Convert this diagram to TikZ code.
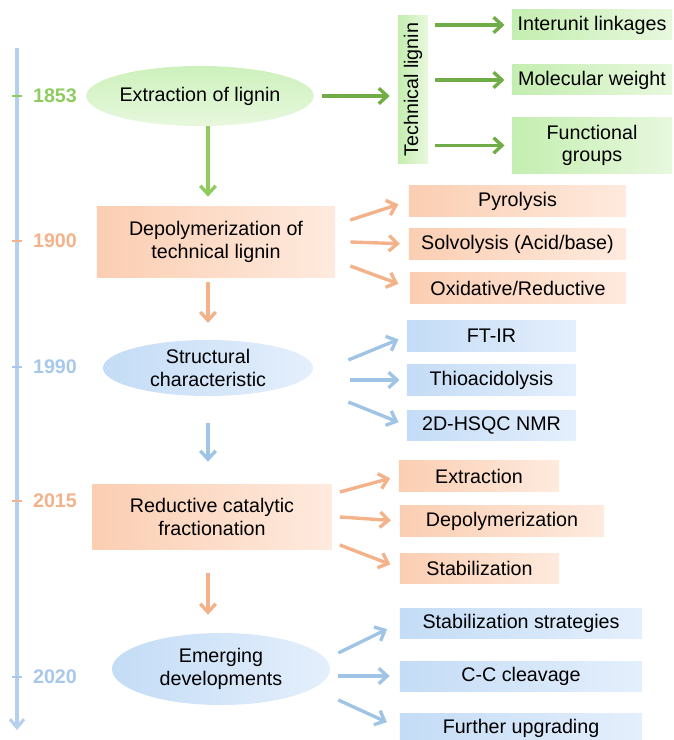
\documentclass[tikz,border=0pt]{standalone}
\usepackage{fontspec}
\setmainfont{Liberation Sans}
\usetikzlibrary{shapes, arrows.meta, positioning, calc}
\definecolor{grnline}{RGB}{112,173,71}
\definecolor{grnyear}{RGB}{142,204,96}
\definecolor{grnA}{RGB}{196,238,176}
\definecolor{grnB}{RGB}{232,248,222}
\definecolor{orgline}{RGB}{243,178,138}
\definecolor{orgA}{RGB}{251,206,178}
\definecolor{orgB}{RGB}{254,234,222}
\definecolor{bluline}{RGB}{160,196,230}
\definecolor{bluyear}{RGB}{168,200,234}
\definecolor{bluA}{RGB}{196,220,246}
\definecolor{bluB}{RGB}{228,239,252}
\tikzstyle{arr}   = [line width=2.4pt, -{Straight Barb[length=6pt, width=11pt, line width=2.4pt]}]
\tikzstyle{garr}  = [arr, draw=grnline]
\tikzstyle{oarr}  = [arr, draw=orgline]
\tikzstyle{barr}  = [arr, draw=bluline]
\tikzstyle{yr}    = [font=\fontsize{14pt}{16pt}\selectfont\bfseries]
\tikzstyle{tick}  = [line width=2.1pt]
\tikzstyle{box}   = [rectangle, minimum height=0.75cm, inner sep=0pt, align=center]
\tikzstyle{gbox}  = [box, left color=grnA, right color=grnB]
\tikzstyle{obox}  = [box, left color=orgA, right color=orgB]
\tikzstyle{bbox}  = [box, left color=bluA, right color=bluB]
\tikzstyle{oval}  = [ellipse, inner sep=0pt, align=center]

\begin{document}
\begin{tikzpicture}[x=0.025cm, y=-0.025cm, font=\fontsize{14pt}{16pt}\selectfont]
\useasboundingbox (0,0) rectangle (674,740);

% time line
\coordinate (top) at (17,48);
\coordinate (bot) at (17,730);
\draw [line width=2.2pt, draw=bluyear!85, -{Straight Barb[length=6pt, width=10pt, line width=2.2pt]}] (top) -- (bot);
\draw [tick, draw=grnyear] (12, 96) -- (22, 96);
\draw [tick, draw=orgline] (12,241) -- (22,241);
\draw [tick, draw=bluyear] (12,367) -- (22,367);
\draw [tick, draw=orgline] (12,501) -- (22,501);
\draw [tick, draw=bluyear] (12,677) -- (22,677);
\node [yr, text=grnyear] at (55, 96) (y1853) {1853};
\node [yr, text=orgline] at (55,241) (y1900) {1900};
\node [yr, text=bluyear] at (55,367) (y1990) {1990};
\node [yr, text=orgline] at (55,501) (y2015) {2015};
\node [yr, text=bluyear] at (55,677) (y2020) {2020};

% main nodes
\node [oval, minimum width=5.6cm, minimum height=1.5cm, top color=grnA!85, bottom color=grnB] at (200, 96) (ext)    {Extraction of lignin};
\node [obox, minimum width=5.95cm, minimum height=1.75cm] at (216,242) (dep)    {Depolymerization of\\technical lignin};
\node [oval, minimum width=5.25cm, minimum height=1.4cm, left color=bluA, right color=bluB] at (208,368) (struct) {Structural\\characteristic};
\node [obox, minimum width=5.975cm, minimum height=1.6cm] at (212,517) (rcf)    {Reductive catalytic\\fractionation};
\node [oval, minimum width=5.45cm, minimum height=1.8cm, left color=bluA, right color=bluB] at (221,669) (emerg)  {Emerging\\developments};

% technical lignin branch
\node [gbox, rotate=90, minimum width=3.675cm] at (413, 89.5) (tech) {Technical lignin};
\node [gbox, minimum width=4cm]                      at (592, 25) (inter) {Interunit linkages};
\node [gbox, minimum width=4cm]                      at (592, 80) (molw)  {Molecular weight};
\node [gbox, minimum width=4cm, minimum height=1.375cm] at (592,145.5) (func) {Functional\\groups};

% depolymerization branch
\node [obox, minimum width=5.425cm] at (517.5,201) (pyro) {Pyrolysis};
\node [obox, minimum width=5.425cm] at (517.5,244) (solv) {Solvolysis (Acid/base)};
\node [obox, minimum width=5.4cm]   at (518,288)   (oxid) {Oxidative/Reductive};

% structural branch
\node [bbox, minimum width=4.225cm] at (491.5,336) (ftir) {FT-IR};
\node [bbox, minimum width=4.225cm] at (491.5,380) (thio) {Thioacidolysis};
\node [bbox, minimum width=4.225cm] at (491.5,425.5) (hsqc) {2D-HSQC NMR};

% RCF branch
\node [obox, minimum width=4cm]   at (479,476) (extr) {Extraction};
\node [obox, minimum width=5.1cm] at (502,521) (depo) {Depolymerization};
\node [obox, minimum width=3.975cm] at (479.5,568) (stab) {Stabilization};

% emerging branch
\node [bbox, minimum width=6.05cm] at (521,623) (sstr)  {Stabilization strategies};
\node [bbox, minimum width=6.05cm] at (521,676) (cc)    {C-C cleavage};
\node [bbox, minimum width=6.05cm] at (521,728) (furth) {Further upgrading};

% edges
\draw [garr, shorten <=0.2cm, shorten >=0.2cm] (ext.east) -- (ext -| tech.north);
\draw [garr, shorten <=0.18cm, shorten >=0.18cm] (tech.south |- inter) -- (inter);
\draw [garr, shorten <=0.18cm, shorten >=0.18cm] (tech.south |- molw)  -- (molw);
\draw [garr, shorten <=0.18cm, shorten >=0.18cm] (tech.south |- func)  -- (func);
\draw [arr, draw=grnyear, shorten >=0.25cm] ([xshift=0.2cm]ext.south) -- ([xshift=0.2cm]ext.south |- dep.north);

\draw [oarr, shorten >=0.27cm] ($(dep.east)+(15,-22)$) -- (pyro.west);
\draw [oarr, shorten >=0.22cm] ($(dep.east)+(15,0)$)   -- (solv.west);
\draw [oarr, shorten >=0.3cm]  ($(dep.east)+(15,24)$)  -- (oxid.west);
\draw [oarr, shorten <=0.12cm, shorten >=0.42cm] (dep.south -| struct) -- (struct.north);

\draw [barr, shorten >=0.22cm] ($(struct.east)+(35,-8)$)  -- (ftir.west);
\draw [barr, shorten >=0.18cm] ($(struct.east)+(37,12)$)  -- (thio.west);
\draw [barr, shorten >=0.22cm] ($(struct.east)+(35,34)$)  -- (hsqc.west);
\draw [barr, shorten <=0.675cm, shorten >=0.575cm] (struct.south) -- (struct.south |- rcf.north);

\draw [oarr, shorten >=0.22cm] ($(rcf.east)+(8,-25)$) -- (extr.west);
\draw [oarr, shorten >=0.22cm] ($(rcf.east)+(8,0)$)   -- (depo.west);
\draw [oarr, shorten >=0.25cm] ($(rcf.east)+(8,28)$)  -- (stab.west);
\draw [oarr, shorten <=0.6cm, shorten >=0.45cm] (rcf.south -| struct) -- (struct.south |- emerg.north);

\draw [barr, shorten >=0.35cm] ($(emerg.east)+(8,-16)$) -- (sstr.west);
\draw [barr, shorten >=0.25cm] ($(emerg.east)+(8,7)$)   -- (cc.west);
\draw [barr, shorten >=0.35cm] ($(emerg.east)+(8,31)$)  -- (furth.west);

\end{tikzpicture}
\end{document}
